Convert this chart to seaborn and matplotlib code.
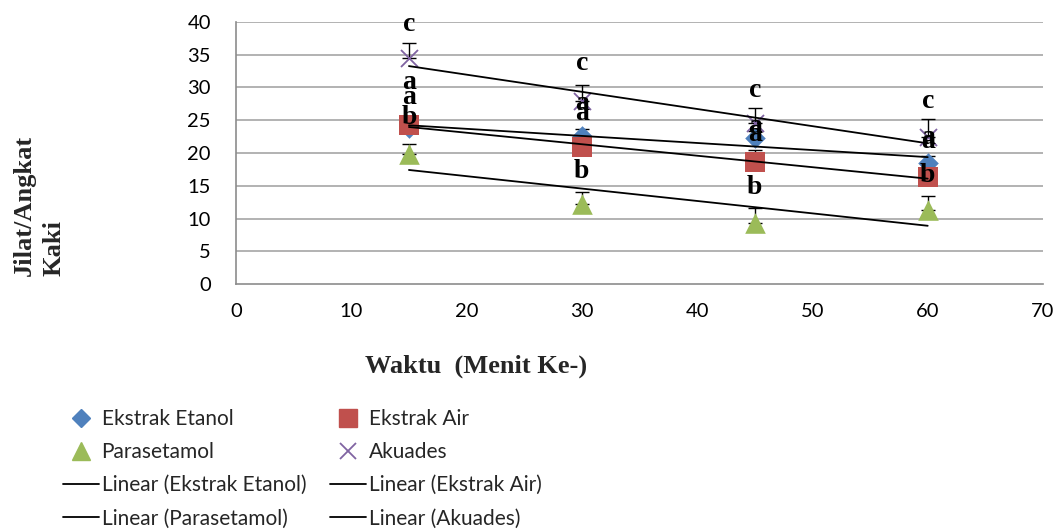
import numpy as np
import pandas as pd
import matplotlib
matplotlib.use("Agg")
import matplotlib.pyplot as plt
import seaborn as sns
from matplotlib.lines import Line2D

# ---- data ----
waktu = [15, 30, 45, 60]
etanol = [23.8, 22.6, 22.3, 18.5]
air = [24.3, 20.9, 18.6, 16.3]
parasetamol = [19.8, 12.2, 9.3, 11.3]
akuades = [34.5, 27.9, 24.6, 22.5]
err_etanol = [1.0, 1.0, 1.0, 1.0]
err_air = [1.2, 1.5, 1.8, 1.3]
err_parasetamol = [1.5, 1.9, 2.3, 2.1]
err_akuades = [2.3, 2.5, 2.2, 2.7]

# notation letters (x, y in data units, text)
label_x = [15, 15, 15, 15, 30, 30, 30, 30, 45, 45, 45, 45, 60, 60, 60, 60]
label_y = [39.6, 30.8, 28.5, 25.4, 33.7, 27.6, 26.0, 17.1,
           29.5, 24.0, 22.9, 14.8, 27.8, 22.4, 21.8, 16.6]
label_text = ["c", "a", "a", "b", "c", "a", "a", "b",
              "c", "a", "a", "b", "c", "a", "a", "b"]

series_names = ["Ekstrak Etanol", "Ekstrak Air", "Parasetamol", "Akuades"]
series_vals = [etanol, air, parasetamol, akuades]
series_err = [err_etanol, err_air, err_parasetamol, err_akuades]
colors = ["#4F81BD", "#C0504D", "#9BBB59", "#8064A2"]
markers = ["D", "s", "^", "x"]
msizes = [110, 200, 220, 150]

sns.set_theme(style="white")
plt.rcParams["font.family"] = ["Lato", "DejaVu Sans"]

fig = plt.figure(figsize=(10.59, 5.32), dpi=100)
ax = fig.add_axes([236/1059, 1-284/532, (1043-236)/1059, (284-22)/532])

grey = "#8C8C8C"
for yv in range(5, 45, 5):
    ax.axhline(yv, color="#A6A6A6", lw=1.2, zorder=0)

# error bars (plus direction)
for vals, err in zip(series_vals, series_err):
    ax.errorbar(waktu, vals, yerr=[np.zeros(len(err)), err], fmt="none",
                ecolor="black", elinewidth=1.0, capsize=5, capthick=1.0, zorder=2)

# markers
for name, vals, c, m, s in zip(series_names, series_vals, colors, markers, msizes):
    df = pd.DataFrame({"x": waktu, "y": vals})
    if m == "x":
        sns.scatterplot(data=df, x="x", y="y", marker="x", color=c, s=s,
                        linewidth=1.3, ax=ax, zorder=3)
    else:
        sns.scatterplot(data=df, x="x", y="y", marker=m, color=c, s=s,
                        edgecolor=c, linewidth=0, ax=ax, zorder=3)

# linear trendlines
for vals in series_vals:
    df = pd.DataFrame({"x": waktu, "y": vals})
    sns.regplot(data=df, x="x", y="y", scatter=False, ci=None, truncate=True,
                line_kws={"color": "black", "lw": 1.3, "zorder": 4}, ax=ax)

# letters
for lx, ly, lt in zip(label_x, label_y, label_text):
    ax.text(lx, ly, lt, ha="center", va="center", fontsize=20, fontweight="bold",
            family="Liberation Serif", color="black", zorder=5)

ax.set_xlim(0, 70)
ax.set_ylim(0, 40)
ax.set_xticks(range(0, 71, 10))
ax.set_yticks(range(0, 41, 5))
ax.set_xlabel("")
ax.set_ylabel("")
for sp in ["top", "right"]:
    ax.spines[sp].set_visible(False)
for sp in ["left", "bottom"]:
    ax.spines[sp].set_color(grey)
    ax.spines[sp].set_linewidth(1.2)
ax.tick_params(axis="both", which="major", direction="out", length=6, width=1.2,
               color=grey, labelsize=14.5, labelcolor="black")
ax.tick_params(axis="x", pad=8)
ax.tick_params(axis="y", pad=12)

fig.text(476/1059, 1-366/532, "Waktu  (Menit Ke-)", ha="center", va="center",
         fontsize=19, fontweight="bold", family="Liberation Serif")
fig.text(39/1059, 1-205/532, "Jilat/Angkat\nKaki", ha="center", va="center",
         rotation=90, multialignment="left", fontsize=19, fontweight="bold",
         family="Liberation Serif", linespacing=1.35)

# legend (two columns placed separately)
h_et = Line2D([], [], ls="none", marker="D", color=colors[0], markersize=9)
h_air = Line2D([], [], ls="none", marker="s", color=colors[1], markersize=13)
h_par = Line2D([], [], ls="none", marker="^", color=colors[2], markersize=13)
h_aku = Line2D([], [], ls="none", marker="x", color=colors[3], markersize=12, mew=1.3)
h_lin = [Line2D([], [], color="black", lw=1.3) for _ in range(4)]
col1_h = [h_et, h_par, h_lin[0], h_lin[2]]
col1_l = ["Ekstrak Etanol", "Parasetamol", "Linear (Ekstrak Etanol)", "Linear (Parasetamol)"]
col2_h = [h_air, h_aku, h_lin[1], h_lin[3]]
col2_l = ["Ekstrak Air", "Akuades", "Linear (Ekstrak Air)", "Linear (Akuades)"]
kw = dict(frameon=False, loc="upper left", fontsize=15, handlelength=1.75,
          handletextpad=0.1, labelspacing=0.63, borderaxespad=0, borderpad=0)
fig.legend(col1_h, col1_l, bbox_to_anchor=(63/1059, 1-409/532), **kw)
fig.legend(col2_h, col2_l, bbox_to_anchor=(330/1059, 1-409/532), **kw)

fig.savefig("out.png", dpi=100)
